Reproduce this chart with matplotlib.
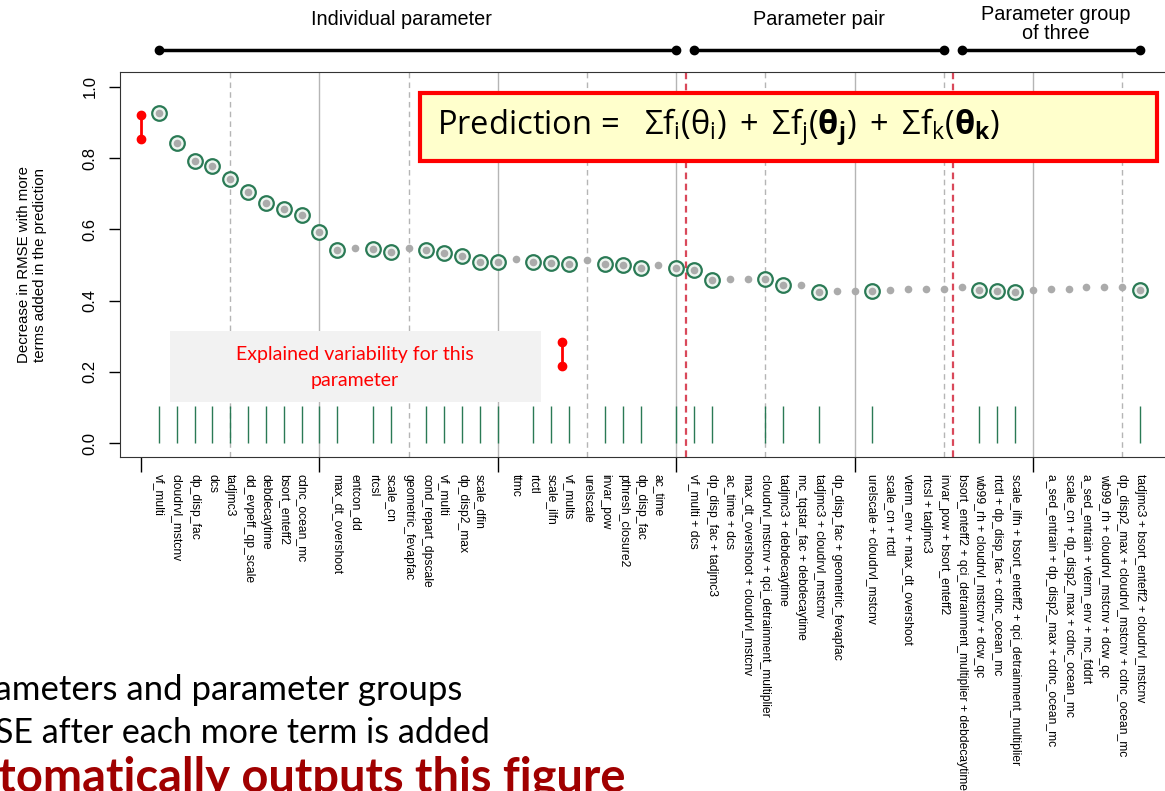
import numpy as np
import matplotlib
matplotlib.use("Agg")
import matplotlib.pyplot as plt
from matplotlib.patches import Rectangle

plt.rcParams['mathtext.fontset'] = 'custom'
plt.rcParams['mathtext.rm'] = 'Open Sans'
plt.rcParams['mathtext.it'] = 'Open Sans:italic'
plt.rcParams['mathtext.bf'] = 'Open Sans:bold'

# terms in the order they were added to the prediction
terms = [
    "vf_multi", "cloudrvl_mstcnv", "dp_disp_fac", "dcs", "tadjmc3",
    "dd_evpeff_qp_scale", "debdecaytime", "bsort_enteff2", "cdnc_ocean_mc",
    "ni_homfree", "max_dt_overshoot", "entcon_dd", "rtcsl", "scale_cn",
    "geometric_fevapfac", "cond_repart_dpscale", "vf_multi", "dp_disp2_max",
    "scale_dfin", "dcs", "ttmc", "rtctl", "scale_ilfn", "vf_mults",
    "urelscale", "invar_pow", "pthresh_closure2", "dp_disp_fac", "ac_time",
    "terminal_aspqp",
    "vf_multi + dcs", "dp_disp_fac + tadjmc3", "ac_time + dcs",
    "max_dt_overshoot + cloudrvl_mstcnv",
    "cloudrvl_mstcnv + qci_detrainment_multiplier",
    "tadjmc3 + debdecaytime", "mc_tqstar_fac + debdecaytime",
    "tadjmc3 + cloudrvl_mstcnv", "dp_disp_fac + geometric_fevapfac",
    "mc_fddrt + tadjmc3", "urelscale + cloudrvl_mstcnv", "scale_cn + rtctl",
    "vterm_env + max_dt_overshoot", "rtcsl + tadjmc3",
    "invar_pow + bsort_enteff2",
    "bsort_enteff2 + qci_detrainment_multiplier + debdecaytime",
    "wb99_rh + cloudrvl_mstcnv + dcw_qc",
    "rtctl + dp_disp_fac + cdnc_ocean_mc",
    "scale_ilfn + bsort_enteff2 + qci_detrainment_multiplier",
    "scale_dfin + ac_time + dcw_qc",
    "a_sed_entrain + dp_disp2_max + cdnc_ocean_mc",
    "scale_cn + dp_disp2_max + cdnc_ocean_mc",
    "a_sed_entrain + vterm_env + mc_fddrt",
    "wb99_rh + cloudrvl_mstcnv + dcw_qc",
    "dp_disp2_max + cloudrvl_mstcnv + cdnc_ocean_mc",
    "tadjmc3 + bsort_enteff2 + cloudrvl_mstcnv",
]

rmse_drop = [
    0.926, 0.842, 0.793, 0.778, 0.741, 0.706, 0.675, 0.656, 0.640, 0.594,
    0.542, 0.547, 0.545, 0.536, 0.547, 0.542, 0.533, 0.526, 0.509, 0.509,
    0.516, 0.509, 0.505, 0.502, 0.514, 0.503, 0.500, 0.492, 0.499, 0.493,
    0.485, 0.458, 0.461, 0.461, 0.461, 0.444, 0.444, 0.424, 0.428, 0.428,
    0.428, 0.430, 0.433, 0.434, 0.434, 0.437, 0.431, 0.428, 0.425, 0.430,
    0.433, 0.434, 0.437, 0.439, 0.439, 0.431,
]

# 1 = term kept in the final model
kept = [
    1, 1, 1, 1, 1, 1, 1, 1, 1, 1,
    1, 0, 1, 1, 0, 1, 1, 1, 1, 1,
    0, 1, 1, 1, 0, 1, 1, 1, 0, 1,
    1, 1, 0, 0, 1, 1, 0, 1, 0, 0,
    1, 0, 0, 0, 0, 0, 1, 1, 1, 0,
    0, 0, 0, 0, 0, 1,
]

groups = ["Individual parameter", "Parameter pair", "Parameter group\nof three"]
group_start = [1, 31, 46]
group_end = [30, 45, 56]
group_label_x = [14.6, 38.0, 51.3]

x = np.arange(1, len(terms) + 1)
y = np.array(rmse_drop)
sel = np.array(kept) == 1

fig = plt.figure(figsize=(11.65, 7.91), dpi=100)
ax = fig.add_axes([120 / 1165, 334 / 791, 1048 / 1165, 385 / 791])
ax.set_xlim(-1.18, 57.57)
ax.set_ylim(-0.039, 1.042)

# grid: solid every 10, dashed in between
for gx in range(5, 57, 5):
    if gx % 10 == 0:
        ax.axvline(gx, color='#b5b5b5', lw=1.0, zorder=0)
    else:
        ax.axvline(gx, color='#b5b5b5', lw=1.0, ls=(0, (4, 3)), zorder=0)

# boundaries between term groups
for bx in [30.55, 45.5]:
    ax.axvline(bx, color='#d9485a', lw=1.6, ls=(0, (3, 2)), zorder=1)

# rug of kept terms
ax.vlines(x[sel], 0.0, 0.105, color='#2a7a55', lw=1.0, zorder=2)

ax.plot(x[sel], y[sel], 'o', ms=10.5, mfc='#eef5f0', mec='#2a7a55',
        mew=1.6, ls='none', zorder=3)
ax.plot(x, y, 'o', ms=5.5, color='#ababab', mec='none', ls='none', zorder=4)

# explained variability markers
ax.plot([0, 0], [0.853, 0.921], color='red', lw=2, marker='o', ms=6, zorder=5)
ax.plot([23.6, 23.6], [0.216, 0.283], color='red', lw=2, marker='o', ms=6,
        zorder=5)

ax.add_patch(Rectangle((1.63, 0.115), 20.8, 0.2, facecolor='#f2f2f2',
                       edgecolor='none', zorder=1.5))
ax.text(12.0, 0.213, "Explained variability for this\nparameter", color='red',
        ha='center', va='center', fontsize=14, family='Lato',
        linespacing=1.65, zorder=6)

ax.add_patch(Rectangle((15.64, 0.792), 41.3, 0.191, facecolor='#ffffcc',
                       edgecolor='#ff0000', lw=3, zorder=6))
ax.text(16.6, 0.888,
        r'Prediction =   $\mathrm{\Sigma f_{i}(\theta_{i})}\;+\;'
        r'\mathrm{\Sigma f_{j}(}\mathbf{\theta_{j}}\mathrm{)}\;+\;'
        r'\mathrm{\Sigma f_{k}(}\mathbf{\theta_{k}}\mathrm{)}$',
        fontsize=23.5, family='Open Sans', va='center', ha='left', zorder=7)

# group brackets above the panel
for name, s, e, lx in zip(groups, group_start, group_end, group_label_x):
    ax.plot([s, e], [1.104, 1.104], color='black', lw=2.5, marker='o', ms=6,
            clip_on=False)
    if '\n' in name:
        ax.text(lx, 1.177, name, ha='center', va='center', fontsize=14.3,
                family='Liberation Sans', linespacing=1.0, clip_on=False)
    else:
        ax.text(lx, 1.19, name, ha='center', va='center', fontsize=14.3,
                family='Liberation Sans', clip_on=False)

ax.set_yticks([0, 0.2, 0.4, 0.6, 0.8, 1.0])
ax.set_yticklabels(['0.0', '0.2', '0.4', '0.6', '0.8', '1.0'], rotation=90,
                   va='center', family='Liberation Sans', fontsize=12)
ax.tick_params(axis='y', length=8, width=1, pad=8)

ax.set_xticks([0, 10, 20, 30, 40, 50])
ax.set_xticklabels([])
ax.tick_params(axis='x', which='major', length=11, width=1)
ax.set_xticks(x, minor=True)
ax.set_xticklabels(terms, minor=True, rotation=-90, ha='center', va='top',
                   family=['Liberation Sans Narrow', 'Liberation Sans'],
                   fontsize=8.7)
ax.tick_params(axis='x', which='minor', length=0, pad=12)

for sp in ax.spines.values():
    sp.set_color('#333333')

fig.text(32 / 1165, 1 - 265 / 791,
         "Decrease in RMSE with more\nterms added in the prediction",
         rotation=90, ha='center', va='center', fontsize=10.8,
         family='Liberation Sans', linespacing=1.15)

# slide text underneath
fig.text(462 / 1165, 1 - 700 / 791, "parameters and parameter groups",
         ha='right', va='baseline', fontsize=25, family='Lato')
fig.text(490 / 1165, 1 - 743 / 791, "RMSE after each more term is added",
         ha='right', va='baseline', fontsize=24.5, family='Lato')
fig.text(626 / 1165, 1 - 792 / 791, "automatically outputs this figure",
         ha='right', va='baseline', fontsize=33.8, family='Lato',
         weight='bold', color='#a00000')

fig.savefig("out.png", dpi=100)
